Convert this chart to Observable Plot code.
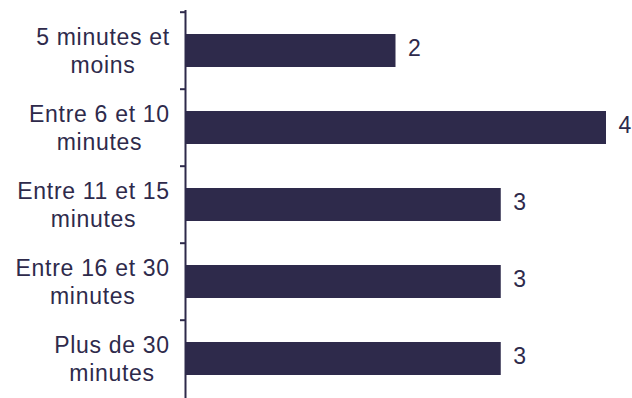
<!DOCTYPE html>
<html><head><meta charset="utf-8">
<script src="https://cdn.jsdelivr.net/npm/d3@7"></script>
<script src="https://cdn.jsdelivr.net/npm/@observablehq/plot@0.6"></script>
<style>body{margin:0;background:#fff}</style>
</head><body><div id="chart"></div>
<script>
const categories = [
  "5 minutes et\nmoins",
  "Entre 6 et 10\nminutes",
  "Entre 11 et 15\nminutes",
  "Entre 16 et 30\nminutes",
  "Plus de 30\nminutes"
];
const values = [2, 4, 3, 3, 3];
const xDomain = [0, 4];

const data = categories.map((c, i) => ({category: c, value: values[i]}));
const W = 632, H = 398, mL = 185, mR = 26, mT = 10, mB = 0;
const color = "#2e2a4b";
const font = "'Liberation Sans', Arial, sans-serif";
const fs = 23;
const ls = 0.7;
const step = (H - mT - mB) / categories.length;
const ctx = document.createElement("canvas").getContext("2d");
ctx.font = `${fs}px 'Liberation Sans'`;
const widthOf = s => Math.max(...s.split("\n").map(l => ctx.measureText(l).width + l.length * ls));

const plot = Plot.plot({
  width: W, height: H,
  marginLeft: mL, marginRight: mR, marginTop: mT, marginBottom: mB,
  style: {fontFamily: font, fontSize: `${fs}px`, color, background: "#fff", letterSpacing: `${ls}px`},
  x: {domain: xDomain, axis: null},
  y: {domain: categories, paddingInner: 0.575, paddingOuter: 0.2875, axis: null},
  marks: [
    Plot.barX(data, {x: "value", y: "category", fill: color}),
    Plot.ruleX([0], {stroke: color, strokeWidth: 2}),
    Plot.axisY({tickSize: 5, tickFormat: () => "", label: null, dy: -step / 2, stroke: color, strokeWidth: 2}),
    ...categories.map(c => Plot.text([c], {
      y: d => d, text: d => d, frameAnchor: "left", textAnchor: "middle",
      dx: -(16 + (widthOf(c) - ls) / 2), dy: -1, lineHeight: 1.23, fontSize: fs, fill: color
    })),
    Plot.text(data, {x: "value", y: "category", text: d => String(d.value),
      textAnchor: "start", dx: 12, dy: -2, fill: color, fontSize: fs})
  ]
});
document.getElementById("chart").appendChild(plot);
</script>
</body></html>
